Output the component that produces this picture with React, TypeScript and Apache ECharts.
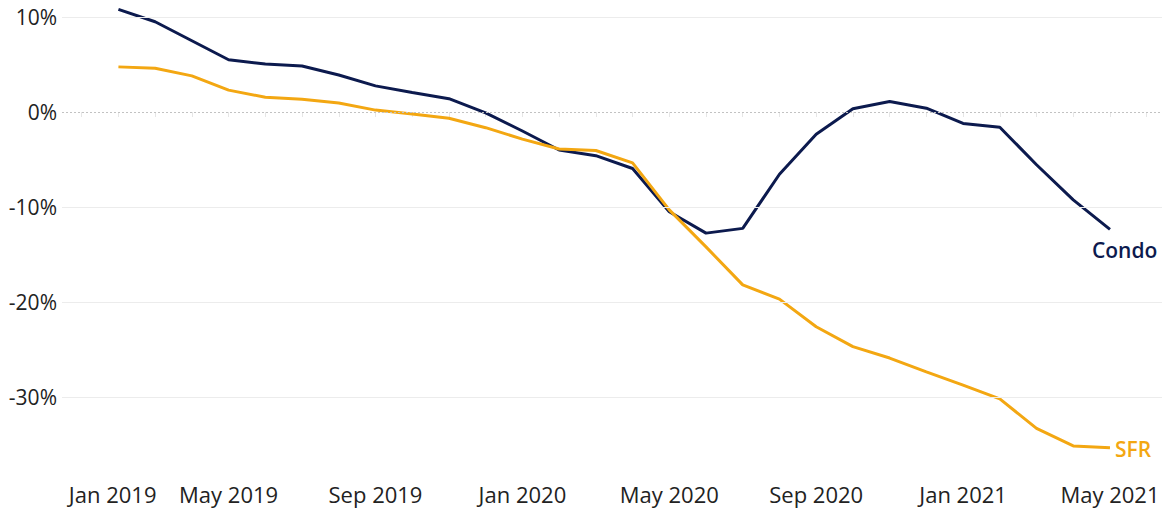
import React, { useEffect, useRef } from "react";
import * as echarts from "echarts";

// Monthly axis categories (ticks at month starts)
const months: string[] = [
  "Jan 2019", "Feb 2019", "Mar 2019", "Apr 2019", "May 2019", "Jun 2019",
  "Jul 2019", "Aug 2019", "Sep 2019", "Oct 2019", "Nov 2019", "Dec 2019",
  "Jan 2020", "Feb 2020", "Mar 2020", "Apr 2020", "May 2020", "Jun 2020",
  "Jul 2020", "Aug 2020", "Sep 2020", "Oct 2020", "Nov 2020", "Dec 2020",
  "Jan 2021", "Feb 2021", "Mar 2021", "Apr 2021", "May 2021", "Jun 2021",
];

// Values Feb 2019 .. May 2021 (%)
const condoValues: number[] = [
  10.8, 9.5, 7.5, 5.5, 5.05, 4.85, 3.9, 2.75, 2.05, 1.4,
  -0.1, -2.0, -4.0, -4.6, -5.95, -10.5, -12.75, -12.25, -6.55, -2.35,
  0.35, 1.1, 0.4, -1.2, -1.6, -5.55, -9.25, -12.35,
];
const sfrValues: number[] = [
  4.75, 4.6, 3.8, 2.3, 1.55, 1.35, 0.95, 0.2, -0.2, -0.65,
  -1.65, -2.85, -3.9, -4.05, -5.35, -10.3, -14.2, -18.2, -19.7, -22.6,
  -24.7, -25.9, -27.35, -28.75, -30.2, -33.3, -35.15, -35.35,
];

const yTicks: number[] = [10, 0, -10, -20, -30];
const labelMonths: string[] = ["Jan 2019", "May 2019", "Sep 2019", "Jan 2020", "May 2020", "Sep 2020", "Jan 2021", "May 2021"];

const CONDO = "#0c1a4e";
const SFR = "#f3a712";
const FONT = "'Open Sans', 'Noto Sans', sans-serif";
const Y_MIN = -38;
const Y_MAX = 11;

export default function App() {
  const ref = useRef<HTMLDivElement>(null);
  useEffect(() => {
    if (!ref.current) return;
    const chart = echarts.init(ref.current, undefined, { renderer: "svg" });
    const top = 7.5;
    const bottom = 39;
    chart.setOption({
      animation: false,
      backgroundColor: "#ffffff",
      grid: [
        { left: 62, right: 5, top, bottom, outerBoundsMode: "none", containLabel: false },
        { left: 81.7, right: 20.3, top, bottom, outerBoundsMode: "none", containLabel: false },
      ],
      xAxis: [
        { type: "value", gridIndex: 0, min: 0, max: 1, show: false },
        {
          type: "category",
          gridIndex: 1,
          data: months,
          boundaryGap: false,
          axisLine: { show: false },
          axisTick: { show: true, interval: 0, length: 5, lineStyle: { color: "#e6e6e6", width: 1 } },
          splitLine: { show: false },
          axisLabel: {
            interval: (_i: number, v: string) => labelMonths.indexOf(v) >= 0,
            formatter: (v: string, i: number) => (i === 0 ? "{first|" + v + "}" : "{n|" + v + "}"),
            margin: 10,
            hideOverlap: false,
            rich: {
              first: { fontSize: 22, fontFamily: FONT, color: "#222", padding: [0, 0, 0, 62] },
              n: { fontSize: 22, fontFamily: FONT, color: "#222" },
            },
          },
        },
      ],
      yAxis: [
        {
          type: "value",
          gridIndex: 0,
          min: Y_MIN,
          max: Y_MAX,
          axisLine: { show: false },
          axisTick: { show: false },
          splitLine: { show: false },
          axisLabel: {
            margin: 5,
            fontSize: 21,
            fontFamily: FONT,
            color: "#222",
            formatter: (v: number) => (yTicks.indexOf(v) >= 0 ? v + "%" : ""),
          },
        },
        { type: "value", gridIndex: 1, min: Y_MIN, max: Y_MAX, show: false },
      ],
      series: [
        {
          type: "line",
          xAxisIndex: 0,
          yAxisIndex: 0,
          data: [],
          silent: true,
          markLine: {
            silent: true,
            symbol: "none",
            label: { show: false },
            data: yTicks.map((v) => ({
              yAxis: v,
              lineStyle: v === 0
                ? { color: "#c2c2c2", type: [2, 2], width: 1 }
                : { color: "#ececec", type: "solid", width: 1 },
            })),
          },
        },
        {
          name: "Condo",
          type: "line",
          xAxisIndex: 1,
          yAxisIndex: 1,
          data: [null, ...condoValues],
          showSymbol: false,
          symbol: "none",
          lineStyle: { color: CONDO, width: 3 },
          itemStyle: { color: CONDO },
          endLabel: {
            show: true,
            formatter: "{a}",
            distance: 5,
            offset: [-23, 21],
            color: CONDO,
            fontSize: 21,
            fontWeight: 600,
            fontFamily: FONT,
          },
        },
        {
          name: "SFR",
          type: "line",
          xAxisIndex: 1,
          yAxisIndex: 1,
          data: [null, ...sfrValues],
          showSymbol: false,
          symbol: "none",
          lineStyle: { color: SFR, width: 3 },
          itemStyle: { color: SFR },
          endLabel: {
            show: true,
            formatter: "{a}",
            distance: 5,
            offset: [0, 1],
            color: SFR,
            fontSize: 21,
            fontWeight: 600,
            fontFamily: FONT,
          },
        },
      ],
    });
    return () => chart.dispose();
  }, []);
  return (
    <div
      ref={ref}
      style={{ position: "fixed", left: 0, top: 0, width: 1167, height: 512, background: "#fff" }}
    />
  );
}
